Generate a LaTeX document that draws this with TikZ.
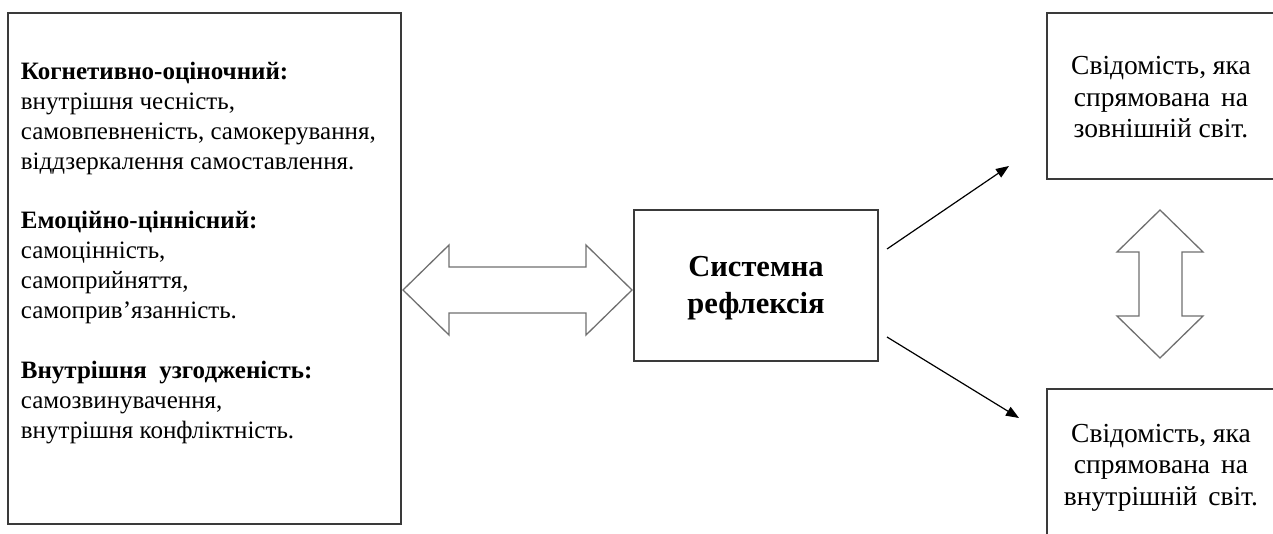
\documentclass[tikz,border=0pt]{standalone}
\usepackage{fontspec}
\setmainfont{Liberation Serif}
\usetikzlibrary{arrows.meta,calc}
\definecolor{boxgray}{HTML}{3A3A3A}
\definecolor{fatgray}{HTML}{707070}
\begin{document}
\begin{tikzpicture}[x=1pt,y=-1pt,
  box/.style={draw=boxgray, line width=1.3pt, inner sep=0pt, fill=none},
  ltxt/.style={anchor=base west, inner sep=0pt, font=\fontsize{25}{29}\selectfont},
  ltxtb/.style={ltxt, font=\fontsize{25}{29}\selectfont\bfseries},
  mtxt/.style={anchor=base, inner sep=0pt, font=\fontsize{30.5}{36}\selectfont\bfseries},
  rtxt/.style={anchor=base, inner sep=0pt, font=\fontsize{27.5}{31.5}\selectfont},
  fat/.style={draw=fatgray, line width=1.3pt, line join=miter},
  conn/.style={draw=black, line width=1.2pt, -{Triangle[length=13pt,width=10pt]}}]
\clip (0,0) rectangle (1273,534);
\fill[white] (0,0) rectangle (1273,534);

% boxes
\node[box, minimum width=393pt, minimum height=511pt] (left) at (204.5,268.5) {};
\node[box, minimum width=244pt, minimum height=151pt] (mid) at (756,285.5) {};
\node[box, minimum width=228pt, minimum height=166pt] (rtop) at (1161,96) {};
\node[box, minimum width=228pt, minimum height=156pt] (rbot) at (1161,467) {};

% left text
\node[ltxtb] (l1) at (20.7,79.5) {Когнетивно-оціночний:};
\node[ltxt] (l2) at (20.7,109.4) {внутрішня чесність,};
\node[ltxt] (l3) at (20.7,139.3) {самовпевненість, самокерування,};
\node[ltxt] (l4) at (20.7,169.2) {віддзеркалення самоставлення.};
\node[ltxtb] (l5) at (20.7,229) {Емоційно-ціннісний:};
\node[ltxt] (l6) at (20.7,258.9) {самоцінність,};
\node[ltxt] (l7) at (20.7,288.8) {самоприйняття,};
\node[ltxt] (l8) at (20.7,318.7) {самоприв’язанність.};
\node[ltxtb] (l9) at (20.7,378.5) {Внутрішня\hspace{0.5em}узгодженість:};
\node[ltxt] (l10) at (20.7,408.4) {самозвинувачення,};
\node[ltxt] (l11) at (20.7,438.3) {внутрішня конфліктність.};

% middle text
\node[mtxt] (m1) at (756,277) {Системна};
\node[mtxt] (m2) at (756,313) {рефлексія};

% right texts
\node[rtxt] (t1) at (1161,75) {Свідомість, яка};
\node[rtxt] (t2) at (1161,107) {спрямована\hspace{0.4em}на};
\node[rtxt] (t3) at (1161,138) {зовнішній світ.};
\node[rtxt] (b1) at (1161,442) {Свідомість, яка};
\node[rtxt] (b2) at (1161,473.5) {спрямована\hspace{0.4em}на};
\node[rtxt] (b3) at (1161,505) {внутрішній\hspace{0.4em}світ.};

% fat double arrows
\coordinate (hl) at (403,290);
\coordinate (hr) at (632,290);
\draw[fat] (hl) -- (449,245) -- (449,267) -- (586,267) -- (586,245) -- (hr)
  -- (586,335) -- (586,313) -- (449,313) -- (449,335) -- cycle;
\coordinate (vt) at (1160,210);
\coordinate (vb) at (1160,358);
\draw[fat] (vt) -- (1203,252) -- (1182,252) -- (1182,316) -- (1203,316) -- (vb)
  -- (1117,316) -- (1139,316) -- (1139,252) -- (1117,252) -- cycle;

% thin arrows
\coordinate (a1s) at (887,249);
\coordinate (a1e) at (1009,166);
\coordinate (a2s) at (887,337);
\coordinate (a2e) at (1019,418);
\draw[conn] (a1s) -- (a1e);
\draw[conn] (a2s) -- (a2e);
\end{tikzpicture}
\end{document}
